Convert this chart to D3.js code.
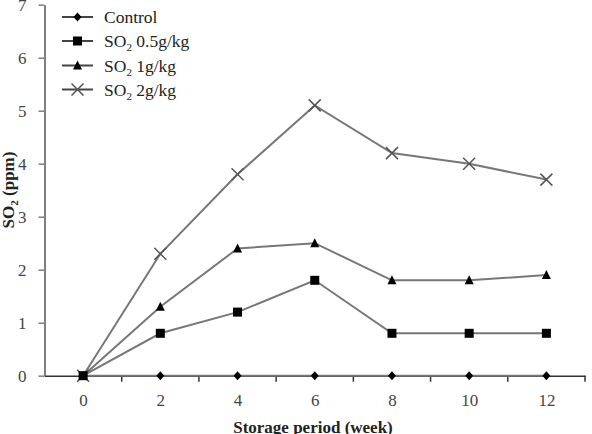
<!DOCTYPE html>
<html>
<head>
<meta charset="utf-8">
<script src="https://cdn.jsdelivr.net/npm/d3@7"></script>
<style>
  body { margin: 0; background: #fff; }
</style>
</head>
<body>
<div id="chart"></div>
<script>
// data
var weeks = [0, 2, 4, 6, 8, 10, 12]
var control = [0, 0, 0, 0, 0, 0, 0]
var so2Half = [0, 0.8, 1.2, 1.8, 0.8, 0.8, 0.8]
var so2One = [0, 1.3, 2.4, 2.5, 1.8, 1.8, 1.9]
var so2Two = [0, 2.3, 3.8, 5.1, 4.2, 4.0, 3.7]
var seriesNames = ["Control", "0.5g/kg", "1g/kg", "2g/kg"]
var yTicks = [0, 1, 2, 3, 4, 5, 6, 7]
var xMinorTicks = [1, 3, 5, 7, 9, 11, 13]

var series = [
  { name: seriesNames[0], values: control, marker: "diamond" },
  { name: seriesNames[1], values: so2Half, marker: "square" },
  { name: seriesNames[2], values: so2One, marker: "triangle" },
  { name: seriesNames[3], values: so2Two, marker: "cross" }
]

var width = 592, height = 434
var serif = "'Liberation Serif', 'Times New Roman', serif"

var svg = d3.select("#chart").append("svg")
  .attr("width", width)
  .attr("height", height)
  .attr("font-family", serif)

var x = d3.scaleLinear().domain([-1, 13]).range([44.5, 585])
var y = d3.scaleLinear().domain([0, 7]).range([375.7, 4.7])

// y axis
var yAxis = svg.append("g")
  .attr("transform", "translate(" + x(-1) + ",0)")
  .call(d3.axisLeft(y).tickValues(yTicks).tickFormat(d3.format("d"))
    .tickSize(6).tickPadding(12).tickSizeOuter(0))
yAxis.attr("font-family", serif).attr("font-size", 17)
yAxis.select(".domain").attr("stroke", "#808080").attr("stroke-width", 2)
yAxis.selectAll(".tick line").attr("stroke", "#808080").attr("stroke-width", 1.5)
yAxis.selectAll(".tick text").attr("fill", "#444")

// x axis: labels at categories, tick marks between them
var xAxis = svg.append("g")
  .attr("transform", "translate(0," + y(0) + ")")
  .call(d3.axisBottom(x).tickValues(weeks).tickSize(0).tickPadding(18).tickSizeOuter(0))
xAxis.attr("font-family", serif).attr("font-size", 17)
xAxis.select(".domain").attr("stroke", "#333").attr("stroke-width", 1.5)
xAxis.selectAll(".tick text").attr("fill", "#444")
xAxis.selectAll(".minor")
  .data(xMinorTicks)
  .enter().append("line")
  .attr("class", "minor")
  .attr("x1", function(d) { return x(d) })
  .attr("x2", function(d) { return x(d) })
  .attr("y1", 0)
  .attr("y2", 6)
  .attr("stroke", "#333")
  .attr("stroke-width", 1.5)

function drawMarker(g, type) {
  if (type === "diamond") {
    g.append("path").attr("d", "M0,-4.5L4,0L0,4.5L-4,0Z").attr("fill", "#000")
  } else if (type === "square") {
    g.append("rect").attr("x", -4.5).attr("y", -4.5).attr("width", 9).attr("height", 9).attr("fill", "#000")
  } else if (type === "triangle") {
    g.append("path").attr("d", "M0,-5L4.5,4L-4.5,4Z").attr("fill", "#000")
  } else {
    g.append("path").attr("d", "M-6,-6L6,6M-6,6L6,-6")
      .attr("stroke", "#555").attr("stroke-width", 1.5).attr("fill", "none")
  }
}

var line = d3.line()
  .x(function(d, i) { return x(weeks[i]) })
  .y(function(d) { return y(d) })

// top series first so the lower markers sit on top near 0
series.slice().reverse().forEach(function(s) {
  svg.append("path")
    .datum(s.values)
    .attr("d", line)
    .attr("fill", "none")
    .attr("stroke", "#777")
    .attr("stroke-width", 2)
})
series.slice().reverse().forEach(function(s) {
  s.values.forEach(function(v, i) {
    var g = svg.append("g").attr("transform", "translate(" + x(weeks[i]) + "," + y(v) + ")")
    drawMarker(g, s.marker)
  })
})

// legend
var legendY = [17, 41, 65.5, 89.5]
series.forEach(function(s, i) {
  var row = svg.append("g").attr("transform", "translate(0," + legendY[i] + ")")
  row.append("line").attr("x1", 62).attr("x2", 93).attr("y1", 0).attr("y2", 0)
    .attr("stroke", "#444").attr("stroke-width", 2)
  drawMarker(row.append("g").attr("transform", "translate(77.5,0)"), s.marker)
  var t = row.append("text").attr("x", 104).attr("y", 6).attr("font-size", 17.5).attr("fill", "#222")
  if (i === 0) {
    t.text(s.name)
  } else {
    t.append("tspan").text("SO")
    t.append("tspan").attr("dy", 4).attr("font-size", 11).text("2")
    t.append("tspan").attr("dy", -4).text("\u00a0" + s.name)
  }
})

// axis titles
var yTitle = svg.append("text")
  .attr("transform", "translate(14,190) rotate(-90)")
  .attr("text-anchor", "middle")
  .attr("font-size", 17)
  .attr("font-weight", 700)
  .attr("fill", "#222")
yTitle.append("tspan").text("SO")
yTitle.append("tspan").attr("dy", 4).attr("font-size", 11).text("2")
yTitle.append("tspan").attr("dy", -4).text(" (ppm)")

svg.append("text")
  .attr("x", 313)
  .attr("y", 433)
  .attr("text-anchor", "middle")
  .attr("font-size", 17)
  .attr("font-weight", 700)
  .attr("fill", "#222")
  .text("Storage period  (week)")
</script>
</body>
</html>
